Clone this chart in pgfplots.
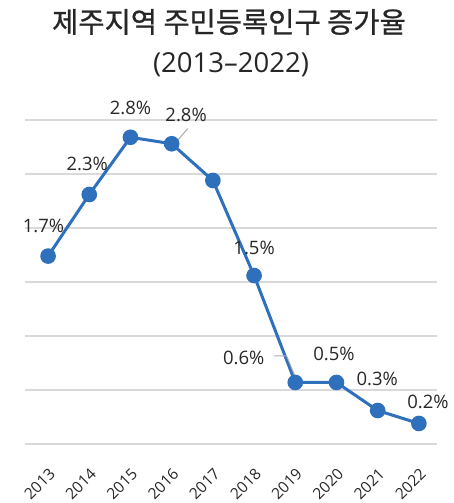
\documentclass[border=0pt]{standalone}
\usepackage{pgfplots}
\pgfplotsset{compat=1.18}
\usepackage{fontspec}
\setmainfont{Open Sans}
\newfontfamily\kr[FakeBold=0.8]{Noto Sans CJK KR}

\definecolor{linecol}{RGB}{47,112,189}
\definecolor{gridcol}{RGB}{217,217,217}
\definecolor{txtcol}{RGB}{38,38,38}
\definecolor{lblcol}{RGB}{40,40,40}
\definecolor{leadcol}{RGB}{170,170,170}

\begin{document}
\begin{tikzpicture}[lbl/.style={font=\fontsize{18.5bp}{20bp}\selectfont, text=lblcol, inner sep=0pt}]
\useasboundingbox (0,0) rectangle (454bp,503bp);
% title
\node[font=\kr\fontsize{28.5bp}{32bp}\selectfont, text=txtcol] at (229bp,481bp) {제주지역 주민등록인구 증가율};
\node[font=\fontsize{27.5bp}{32bp}\selectfont, text=txtcol] at (231bp,438bp) {(2013–2022)};

\begin{axis}[
    at={(25bp,59bp)}, anchor=south west,
    width=412bp, height=324bp, scale only axis,
    xmin=-0.56, xmax=9.44, ymin=0, ymax=3,
    axis line style={draw=none},
    ytick={0,0.5,...,3}, yticklabels={},
    ymajorgrids,
    major grid style={gridcol, line width=1.3bp},
    xtick={0,...,9},
    xticklabels={2013,2014,2015,2016,2017,2018,2019,2020,2021,2022},
    major tick length=0pt,
    xticklabel shift=23bp,
    xticklabel style={rotate=45, anchor=north east, inner sep=0pt,
        font=\fontsize{15.5bp}{17bp}\selectfont, text=lblcol},
    clip=false,
]
\addplot[linecol, line width=3bp, mark=*, mark size=6.3bp,
    mark options={solid, fill=linecol, draw=none}] coordinates {
    (0,1.74) (1,2.31) (2,2.84) (3,2.78) (4,2.44)
    (5,1.56) (6,0.57) (7,0.57) (8,0.31) (9,0.19)
};
% data labels
\node[lbl] at (axis cs:-0.11,2.02) {1.7\%};
\node[lbl] at (axis cs:0.95,2.59) {2.3\%};
\node[lbl] at (axis cs:2.0,3.11) {2.8\%};
\node[lbl] at (axis cs:3.35,3.05) {2.8\%};
\node[lbl] at (axis cs:5.0,1.82) {1.5\%};
\node[lbl] at (axis cs:4.75,0.80) {0.6\%};
\node[lbl] at (axis cs:6.94,0.83) {0.5\%};
\node[lbl] at (axis cs:7.99,0.60) {0.3\%};
\node[lbl] at (axis cs:9.22,0.39) {0.2\%};
% leader lines
\draw[leadcol, line width=1bp] (axis cs:3.39,2.92) -- (axis cs:3.14,2.81);
\draw[leadcol, line width=1bp] (axis cs:5.48,0.815) -- (axis cs:5.79,0.815) -- (axis cs:5.98,0.64);
\end{axis}
\end{tikzpicture}
\end{document}
